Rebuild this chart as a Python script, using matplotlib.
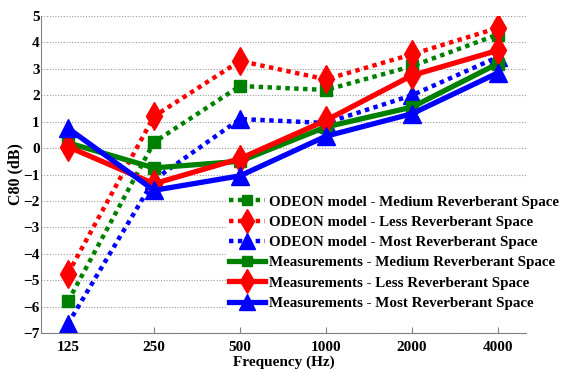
import numpy as np
import matplotlib.pyplot as plt

plt.rcParams['font.family'] = ['Liberation Serif', 'DejaVu Serif']
plt.rcParams['font.weight'] = 'bold'

# DATA ########################################################################

freqs = ['125', '250', '500', '1000', '2000', '4000']

odeon_medium = [-5.8, 0.22, 2.35, 2.2, 3.1, 4.3]
odeon_less = [-4.75, 1.2, 3.3, 2.6, 3.55, 4.55]
odeon_most = [-6.65, -1.2, 1.1, 0.95, 2.0, 3.45]

meas_medium = [0.2, -0.75, -0.5, 0.8, 1.55, 3.2]
meas_less = [0.05, -1.35, -0.4, 1.05, 2.75, 3.7]
meas_most = [0.75, -1.6, -1.05, 0.45, 1.3, 2.85]

labels = ['ODEON model - Medium Reverberant Space',
          'ODEON model - Less Reverberant Space',
          'ODEON model - Most Reverberant Space',
          'Measurements - Medium Reverberant Space',
          'Measurements - Less Reverberant Space',
          'Measurements - Most Reverberant Space']

# PLOT ########################################################################

fig = plt.figure(figsize=(5.61, 3.69), dpi=100)
ax = fig.add_axes([0.0731, 0.0976, 0.8645, 0.859])

x = np.arange(len(freqs))
green, red, blue = '#008000', '#ff0000', '#0000ff'
dots = (0, (1, 1))

series = [
    (odeon_medium, green, 's', 9, dots, 3.2),
    (odeon_less, red, 'd', 14, dots, 3.2),
    (odeon_most, blue, '^', 13, dots, 3.2),
    (meas_medium, green, 's', 9, '-', 3.8),
    (meas_less, red, 'd', 14, '-', 3.8),
    (meas_most, blue, '^', 13, '-', 3.8),
]

for (vals, col, mk, ms, ls, lw), lab in zip(series, labels):
    ax.plot(x, vals, color=col, marker=mk, markersize=ms, linestyle=ls,
            linewidth=lw, dash_capstyle='butt', label=lab)

ax.set_xlim(-0.314, 5.326)
ax.set_ylim(-7, 5)
ax.set_xticks(x)
ax.set_xticklabels(freqs)
ax.set_yticks(np.arange(-7, 6, 1))

ax.yaxis.grid(True, linestyle=(0, (1, 1.5)), color='#999999', linewidth=0.8)
ax.set_axisbelow(True)

for side in ['top', 'right']:
    ax.spines[side].set_visible(False)
for side in ['left', 'bottom']:
    ax.spines[side].set_color('#808080')

ax.tick_params(axis='both', direction='in', length=4, color='#808080',
               labelsize=11, pad=6)
ax.tick_params(axis='y', length=0, pad=1)

ax.set_xlabel('Frequency (Hz)', fontsize=11, fontweight='bold', labelpad=1)
ax.set_ylabel('C80 (dB)', fontsize=11.5, fontweight='bold')
ax.yaxis.set_label_coords(-0.037, 0.5)

leg = ax.legend(loc='lower right', bbox_to_anchor=(1.09, 0.04), frameon=True,
                fontsize=10.8, handlelength=2.4, handletextpad=0.3,
                labelspacing=0.45, borderpad=0.2, markerscale=0.85)
leg.get_frame().set_edgecolor('white')
leg.get_frame().set_facecolor('white')
leg.get_frame().set_alpha(1.0)
leg.get_frame().set_boxstyle('square', pad=0)

plt.savefig('out.png', dpi=100)
